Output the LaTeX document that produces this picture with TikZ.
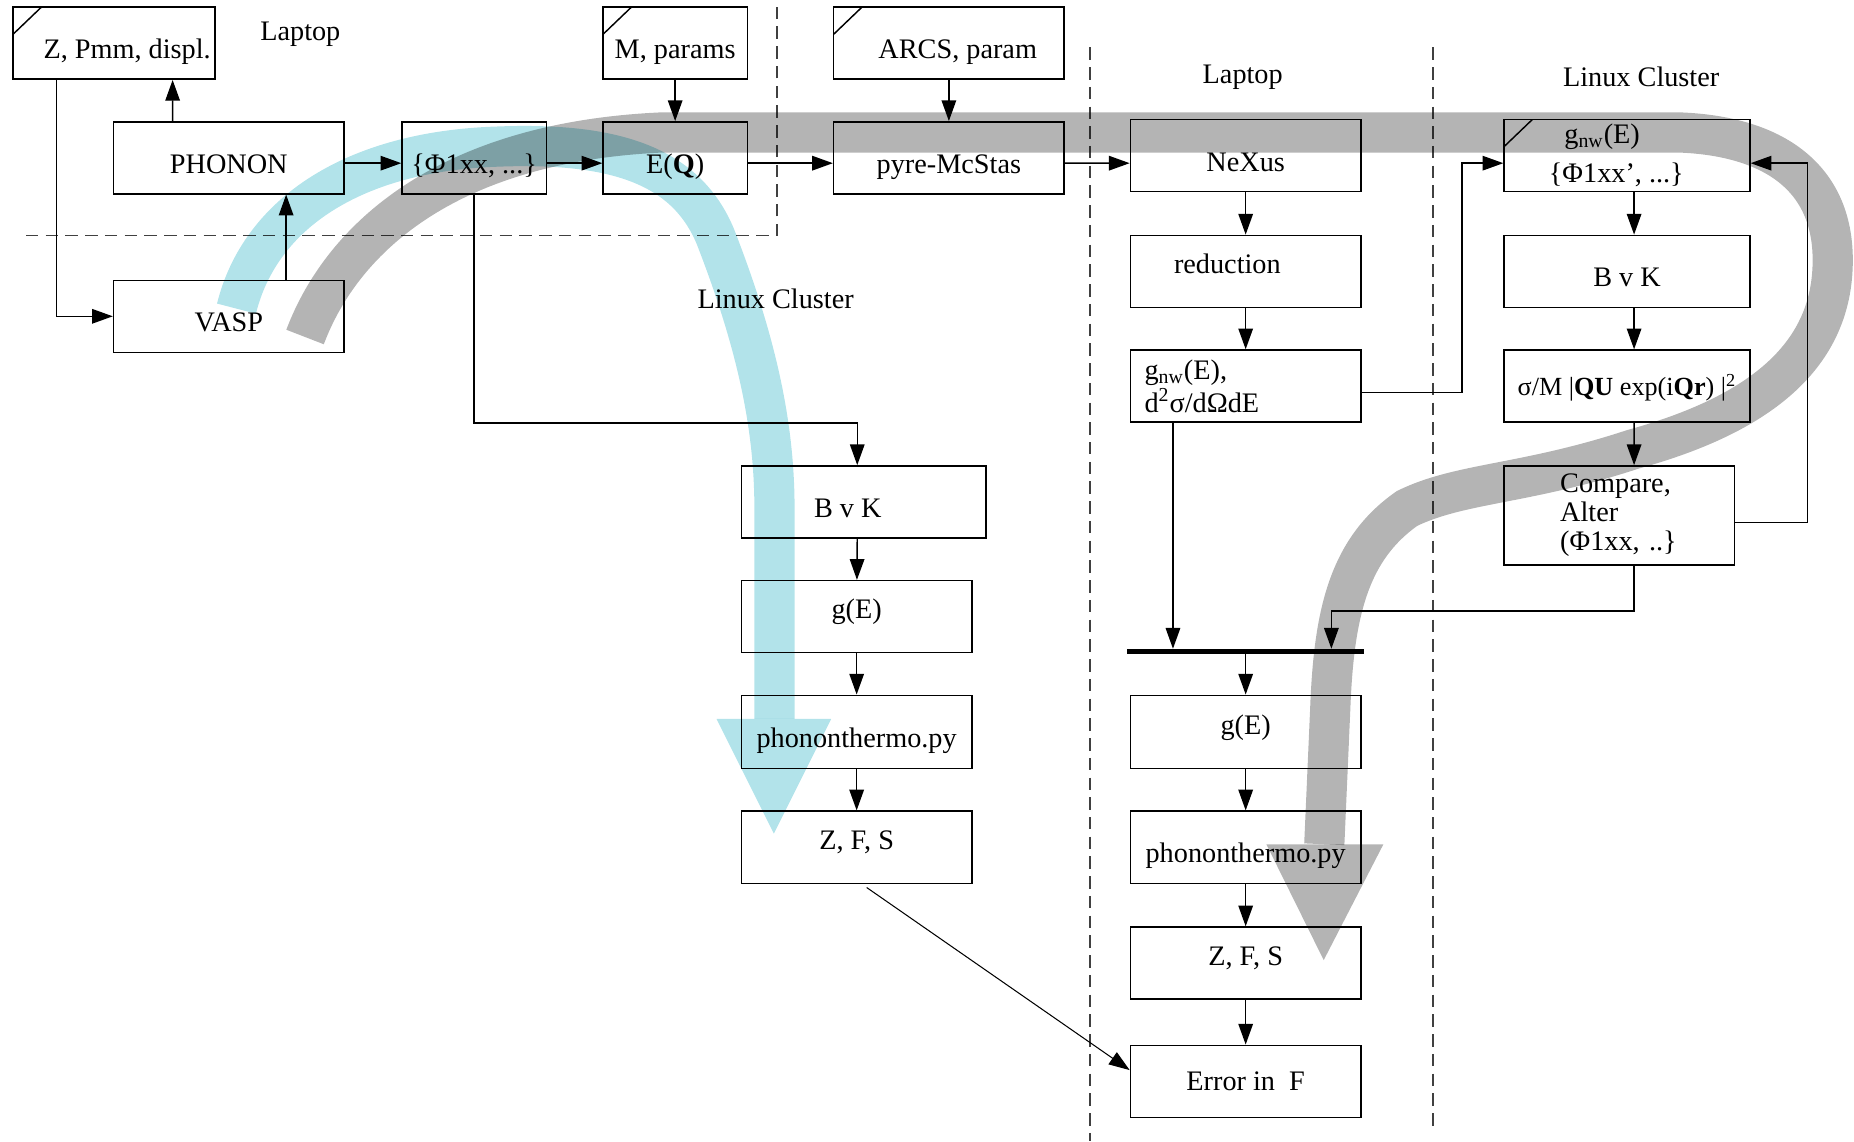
\documentclass[tikz,border=0pt]{standalone}
\usepackage{fontspec}
\setmainfont{Liberation Serif}
\usetikzlibrary{arrows.meta}

\definecolor{cyanband}{RGB}{178,227,234}
\definecolor{grayband}{RGB}{180,180,180}

\tikzset{
  box/.style={draw, line width=.7pt, minimum width=3.9cm, minimum height=1.22cm,
    inner sep=2pt, text height=15pt, text depth=0pt},
  hi/.style={text height=6pt, text depth=4pt},
  multi/.style={text height=, text depth=},
  note/.style={box, path picture={\draw[line width=.7pt]
      ([yshift=-.46cm]path picture bounding box.north west) --
      ([xshift=.48cm]path picture bounding box.north west);}},
  arr/.style={line width=.7pt, -{Triangle[length=10pt,width=7pt]}},
  zone/.style={line width=.7pt, black!75, dash pattern=on 6pt off 3.5pt},
  band/.style={line width=.68cm},
}

\begin{document}
\begin{tikzpicture}[x=.02cm, y=-.02cm, font=\fontsize{13.6}{16}\selectfont]
\useasboundingbox (0,0) rectangle (1568,965);

% zones
\draw[zone] (22,199) -| (657,6);
\draw[zone] (922,40) -- (922,965);
\draw[zone] (1212,40) -- (1212,955);
\node (lap1) at (254,29) {Laptop};
\node (lin1) at (656,253) {Linux Cluster};
\node (lap2) at (1051,65) {Laptop};
\node (lin2) at (1388,65) {Linux Cluster};

% phonon calculation
\node[note, minimum width=3.42cm, inner xsep=0pt] (zpd) at (96.5,36.5) {\hspace*{.44cm}Z, Pmm, displ.};
\node[box] (phonon) at (193.5,133.5) {PHONON};
\node[box] (vasp) at (193.5,267.5) {VASP};
\node[box, minimum width=2.44cm] (phi) at (401,133.5) {\{Φ1xx, ...\}};
\node[note, minimum width=2.44cm] (mpar) at (571,36.5) {M, params};
\node[box, minimum width=2.44cm] (eq) at (571,133.5) {E(\textbf{Q})};
\node[note] (arcs) at (802.5,36.5) {\hspace*{.3cm}ARCS, param};
\node[box] (pyre) at (802.5,133.5) {pyre-McStas};

% thermodynamics from the model
\node[box, minimum width=4.14cm] (bvkm) at (730.5,424.5) {B v K\hspace*{.54cm}};
\node[box, hi] (gem) at (724.5,521.5) {g(E)};
\node[box, minimum height=1.24cm] (phtm) at (724.5,619) {phononthermo.py};
\node[box, hi] (zfsm) at (724.5,716.5) {Z, F, S};

% data reduction
\node[box] (nexus) at (1053.5,131.5) {NeXus};
\node[box, hi] (reduc) at (1053.5,229.5) {reduction\hspace*{.62cm}};
\node[box, multi, align=left, text width=3.42cm, inner xsep=.24cm] (gnw) at (1053.5,326.5)
  {g\textsubscript{nw}(E),\\d\textsuperscript{2}σ/dΩdE};
\node[fill, inner sep=0pt, minimum width=4cm, minimum height=.08cm] (bar) at (1053.5,551) {};
\node[box, hi, minimum height=1.24cm] (ger) at (1053.5,619) {g(E)};
\node[box] (phtr) at (1053.5,716.5) {phononthermo.py};
\node[box, hi] (zfsr) at (1053.5,814.5) {Z, F, S};
\node[box, text height=9pt] (err) at (1053.5,914.5) {Error in~~F};

% fitting loop
\node[note, multi, align=center, minimum width=4.16cm] (gphi) at (1376,131.5)
  {g\textsubscript{nw}(E)\hspace*{.84cm}\\[3pt]\{Φ1xx’, ...\}\hspace*{.36cm}};
\node[box, minimum width=4.16cm] (bvkr) at (1376,229.5) {B v K};
\node[box, minimum width=4.16cm, text height=9pt, inner xsep=0pt,
  font=\fontsize{12.6}{15}\selectfont] (sig) at (1376,326.5)
  {σ/M |\textbf{QU} exp(i\textbf{Qr}) |\textsuperscript{2}};
\node[box, multi, minimum height=1.68cm, align=left, text width=2cm, inner xsep=.95cm,
  font=\fontsize{13.6}{14}\selectfont] (cmp) at (1369.5,436) {Compare,\\Alter\\(Φ1xx, ..\}};

% connectors
\draw[arr] ([xshift=-.97cm]zpd.south) |- (vasp);
\draw[arr] ([xshift=-.95cm]phonon.north) -- ([xshift=.99cm]zpd.south);
\draw[arr] ([xshift=.97cm]vasp.north) -- ([xshift=.97cm]phonon.south);
\draw[arr] ([yshift=-.09cm]phonon.east) -- ([yshift=-.09cm]phi.west);
\draw[arr] ([yshift=-.09cm]phi.east) -- ([yshift=-.09cm]eq.west);
\draw[arr] (mpar) -- (eq);
\draw[arr] ([yshift=-.09cm]eq.east) -- ([yshift=-.09cm]pyre.west);
\draw[arr] (arcs) -- (pyre);
\draw[arr] ([yshift=-.09cm]pyre.east) -- ([yshift=-.13cm]nexus.west);
\draw[arr] (nexus) -- (reduc);
\draw[arr] (reduc) -- (gnw);
\draw[arr] ([yshift=-.11cm]gnw.east) -- ++(85,0) |- ([yshift=-.13cm]gphi.west);
\draw[arr] ([xshift=.12cm]gphi.south) -- ([xshift=.12cm]bvkr.north);
\draw[arr] ([xshift=.12cm]bvkr.south) -- ([xshift=.12cm]sig.north);
\draw[arr] ([xshift=.12cm]sig.south) -- ([xshift=.25cm]cmp.north);
\draw[arr] ([yshift=-.12cm]cmp.east) -- ++(61,0) |- ([yshift=-.13cm]gphi.east);
\draw[arr] ([xshift=.25cm]cmp.south) -- ++(0,38) -| ([xshift=1.45cm]bar.north);
\draw[arr] ([xshift=-1.23cm]gnw.south) -- ([xshift=-1.23cm]bar.north);
\draw[arr] (bar) -- (ger);
\draw[arr] (ger) -- (phtr);
\draw[arr] (phtr) -- (zfsr);
\draw[arr] (zfsr) -- (err);
\draw[arr] (phi.south) -- ++(0,193) -| ([xshift=-.11cm]bvkm.north);
\draw[arr] ([xshift=-.11cm]bvkm.south) -- (gem);
\draw[arr] (gem) -- (phtm);
\draw[arr] (phtm) -- (zfsm);
\draw[arr, line width=.5pt] ([xshift=.17cm,yshift=-.06cm]zfsm.south) -- ([yshift=.19cm]err.west);

% work flows
\begin{scope}[blend mode=multiply]
\draw[band, cyanband] (200,261) .. controls (220,180) and (300,128) .. (420,124)
  .. controls (520,120) and (580,140) .. (605,200)
  .. controls (640,290) and (655,360) .. (655,430) -- (655,608);
\fill[cyanband] (606,608) -- (703,608) -- (654.5,705) -- cycle;
\draw[band, grayband] (258,285) .. controls (290,200) and (380,120) .. (560,112) -- (1420,112)
  .. controls (1500,115) and (1550,150) .. (1550,220)
  .. controls (1550,300) and (1490,350) .. (1381,380)
  .. controls (1290,410) and (1235,408) .. (1190,430)
  .. controls (1140,465) and (1128,520) .. (1125,600) -- (1120,714);
\fill[grayband] (1071,714) -- (1170,714) -- (1119.5,812) -- cycle;
\end{scope}
\end{tikzpicture}
\end{document}
